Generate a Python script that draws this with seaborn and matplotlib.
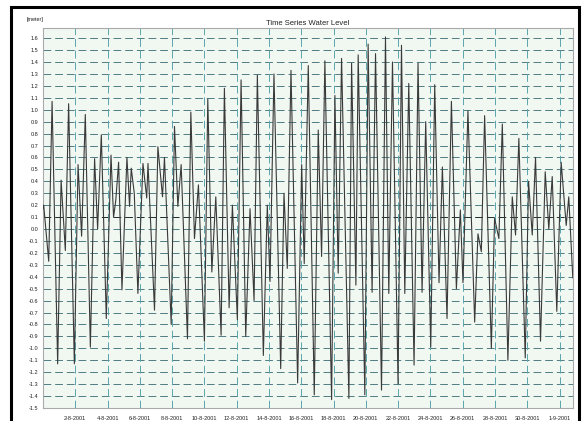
import numpy as np
import pandas as pd
import matplotlib
matplotlib.use("Agg")
import matplotlib.pyplot as plt
import seaborn as sns
from matplotlib.patches import Rectangle

# ---- data (hours after 31-7-2001 00:00, water level in metres) ----
hours = [0, 1, 8.5, 13.5, 21.8, 26.9, 33.2, 38.1, 46.6, 52.1, 57.4, 62.9, 70.4, 76.7, 81.2,
         86.7, 94.1, 101.1, 104.9, 108.2, 112.4, 117.4, 124.8, 128.7, 131.2, 135.7, 141.1,
         148.6, 154.2, 156.1, 165.8, 170.8, 177.7, 180.6, 190.6, 195.5, 200.5, 205.4, 214.8,
         219.8, 225.2, 231.1, 240.0, 245.0, 251.0, 256.9, 264.8, 269.7, 276.7, 281.6, 289.0,
         294.5, 301.4, 307.8, 313.8, 318.7, 327.6, 333.5, 337.5, 343.4, 353.4, 358.3, 363.2,
         368.7, 378.6, 384.6, 388.4, 394.4, 403.3, 409.2, 414.2, 419.1, 429.1, 434.0, 438.9,
         443.9, 454.8, 458.8, 465.2, 468.6, 478.5, 483.4, 489.3, 494.4, 503.3, 509.2, 514.1,
         519.6, 527.9, 533.0, 537.9, 543.8, 551.7, 557.6, 563.6, 569.0, 576.5, 582.4, 588.8,
         593.8, 600.7, 607.2, 614.6, 620.5, 624.4, 631.8, 641.8, 646.7, 651.7, 656.6, 666.6,
         671.4, 677.8, 682.9, 691.2, 697.7, 702.6, 707.5, 717.0, 721.9, 727.4, 732.3, 739.7,
         746.7, 752.0, 757.1, 763.9, 770.4, 777.9, 781.7, 787.7]

levels = [0.17, 0.20, -0.27, 1.07, -1.13, 0.41, -0.18, 1.05, -1.13, 0.54, -0.06, 0.96, -0.99,
          0.59, 0.00, 0.79, -0.75, 0.62, 0.10, 0.24, 0.56, -0.51, 0.60, 0.19, 0.51, 0.30, -0.54,
          0.55, 0.26, 0.55, -0.68, 0.69, 0.27, 0.60, -0.80, 0.86, 0.19, 0.54, -0.92, 0.98, -0.08,
          0.37, -0.94, 1.09, -0.36, 0.27, -0.89, 1.18, -0.66, 0.20, -0.76, 1.25, -0.90, 0.17,
          -0.60, 1.29, -1.06, 0.20, -0.44, 1.30, -1.17, 0.30, -0.33, 1.33, -1.29, 0.54, -0.29,
          1.37, -1.39, 0.83, -0.23, 1.41, -1.43, 1.12, -0.37, 1.43, -1.42, 1.39, -0.47, 1.46,
          -1.39, 1.55, -0.53, 1.47, -1.35, 1.61, -0.54, 1.40, -1.30, 1.54, -0.54, 1.22, -1.14,
          1.39, -0.53, 0.90, -0.99, 1.21, -0.45, 0.52, -0.75, 1.07, -0.50, 0.16, -0.45, 0.99,
          -0.78, -0.04, -0.19, 0.95, -1.00, 0.09, -0.08, 0.88, -1.10, 0.27, -0.05, 0.76, -1.08,
          0.40, -0.05, 0.60, -0.94, 0.48, 0.00, 0.44, -0.69, 0.56, 0.03, 0.27, -0.41]

start_time = "2001-07-31 00:00"
x_tick_dates = ["2001-08-02", "2001-08-04", "2001-08-06", "2001-08-08", "2001-08-10",
                "2001-08-12", "2001-08-14", "2001-08-16", "2001-08-18", "2001-08-20",
                "2001-08-22", "2001-08-24", "2001-08-26", "2001-08-28", "2001-08-30",
                "2001-09-01"]
x_tick_labels = ["2-8-2001", "4-8-2001", "6-8-2001", "8-8-2001", "10-8-2001", "12-8-2001",
                 "14-8-2001", "16-8-2001", "18-8-2001", "20-8-2001", "22-8-2001", "24-8-2001",
                 "26-8-2001", "28-8-2001", "30-8-2001", "1-9-2001"]
y_ticks = [round(v, 1) for v in np.arange(-1.5, 1.61, 0.1)]
y_tick_labels = [f"{v:.1f}" if abs(v) > 1e-9 else "0.0" for v in y_ticks]

title = "Time Series Water Level"
unit_label = "[meter]"

# ---- build ----
t0 = pd.Timestamp(start_time)
df = pd.DataFrame({"time": t0 + pd.to_timedelta(hours, unit="h"), "level": levels})

sns.set_style("white")
plt.rcParams["font.family"] = ["Liberation Sans", "DejaVu Sans"]

fig = plt.figure(figsize=(5.82, 4.21), dpi=100)
fig.patch.set_facecolor("white")
ax = fig.add_axes([43 / 582, 1 - 408 / 421, (573 - 43) / 582, (408 - 28) / 421])
ax.set_facecolor("#f1f8f2")

# outer black frame (bottom edge falls outside the image)
fig.patches.append(Rectangle((11 / 582, -10 / 421), (579 - 11) / 582, (414 + 10) / 421,
                             transform=fig.transFigure, fill=False, edgecolor="black",
                             linewidth=2.2, zorder=10, clip_on=False))

# grid
for v in y_ticks:
    col = "#1e2b2b" if abs(v - 0.1) < 1e-9 else "#4e7c82"
    ax.axhline(v, color=col, linewidth=0.7, linestyle=(0, (8, 4)), zorder=1)
for d in x_tick_dates:
    ax.axvline(pd.Timestamp(d), color="#5aa5ad", linewidth=0.7, linestyle=(0, (8, 4)), zorder=1)

sns.lineplot(data=df, x="time", y="level", ax=ax, color="#3a3a3a", linewidth=0.8,
             estimator=None, zorder=3)

ax.set_xlim(t0, t0 + pd.Timedelta(hours=788))
ax.set_ylim(-1.5, 1.685)

ax.set_yticks(y_ticks)
ax.set_yticklabels(y_tick_labels)
ax.set_yticks([v + 0.05 for v in y_ticks[:-1]], minor=True)
ax.set_xticks([pd.Timestamp(d) for d in x_tick_dates])
ax.set_xticklabels(x_tick_labels)
ax.set_xticks(pd.date_range(t0, t0 + pd.Timedelta(hours=788), freq="12h"), minor=True)

ax.tick_params(axis="both", which="major", labelsize=4, direction="inout", length=4,
               width=0.6, color="#777777", pad=1.5, labelcolor="#222222")
ax.tick_params(axis="x", which="major", pad=3.5)
ax.tick_params(axis="both", which="minor", direction="inout", length=2, width=0.5,
               color="#888888")
ax.set_xlabel("")
ax.set_ylabel("")

for s in ax.spines.values():
    s.set_color("#aaaaaa")
    s.set_linewidth(0.8)

ax.set_title(title, fontsize=5.5, pad=2, color="#222222")
fig.text(27 / 582, 1 - 19 / 421, unit_label, fontsize=4, color="#222222", va="center")

fig.savefig("out.png", dpi=100)
